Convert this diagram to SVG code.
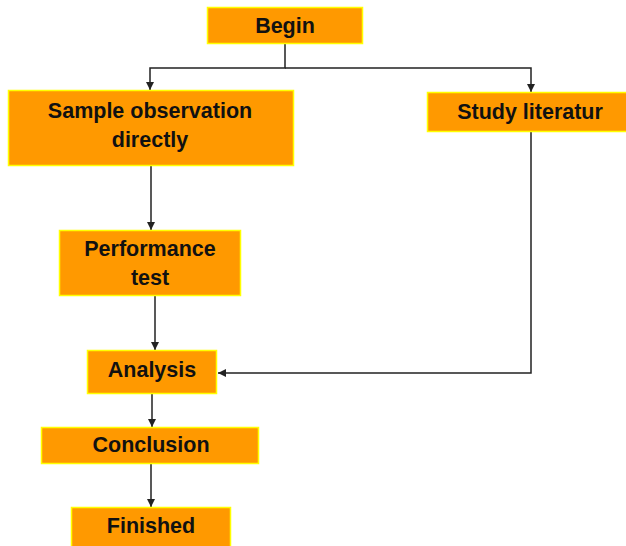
<svg xmlns="http://www.w3.org/2000/svg" width="626" height="546" viewBox="0 0 626 546">
<defs>
<style>
.box{fill:#FF9900;stroke:#FFFF00;stroke-width:1.5}
.lbl{font-family:"Liberation Sans",Arial,sans-serif;font-weight:bold;font-size:21.5px;fill:#111;text-anchor:middle}
.con{fill:none;stroke:#222;stroke-width:1.5}
</style>
<marker id="ah" viewBox="0 0 10 10" refX="10" refY="5" markerWidth="8" markerHeight="8" markerUnits="userSpaceOnUse" orient="auto">
<path d="M0,0 L10,5 L0,10 Z" fill="#222"/>
</marker>
</defs>
<rect width="626" height="546" fill="#fff"/>
<g id="connectors">
<path class="con" d="M285,44 V68 H150 V90" marker-end="url(#ah)"/>
<path class="con" d="M285,68 H531 V92" marker-end="url(#ah)"/>
<path class="con" d="M151,166 V230" marker-end="url(#ah)"/>
<path class="con" d="M155,296 V350" marker-end="url(#ah)"/>
<path class="con" d="M531,132 V373 H218" marker-end="url(#ah)"/>
<path class="con" d="M152,394 V427" marker-end="url(#ah)"/>
<path class="con" d="M151,464 V507" marker-end="url(#ah)"/>
</g>
<g id="begin">
<rect class="box" x="207.5" y="7.5" width="155" height="36"/>
<text class="lbl" x="285" y="33">Begin</text>
</g>
<g id="sample">
<rect class="box" x="8.5" y="90.5" width="285" height="75"/>
<text class="lbl" x="150" y="118">Sample observation</text>
<text class="lbl" x="150" y="147">directly</text>
</g>
<g id="study">
<rect class="box" x="427.5" y="92.5" width="200" height="39"/>
<text class="lbl" x="530" y="119">Study literatur</text>
</g>
<g id="performance">
<rect class="box" x="59.5" y="230.5" width="181" height="65"/>
<text class="lbl" x="150" y="256">Performance</text>
<text class="lbl" x="150" y="285">test</text>
</g>
<g id="analysis">
<rect class="box" x="87.5" y="350.5" width="129" height="43"/>
<text class="lbl" x="152" y="377">Analysis</text>
</g>
<g id="conclusion">
<rect class="box" x="41.5" y="427.5" width="217" height="36"/>
<text class="lbl" x="151" y="452">Conclusion</text>
</g>
<g id="finished">
<rect class="box" x="71.5" y="507.5" width="159" height="40"/>
<text class="lbl" x="151" y="533">Finished</text>
</g>
</svg>
